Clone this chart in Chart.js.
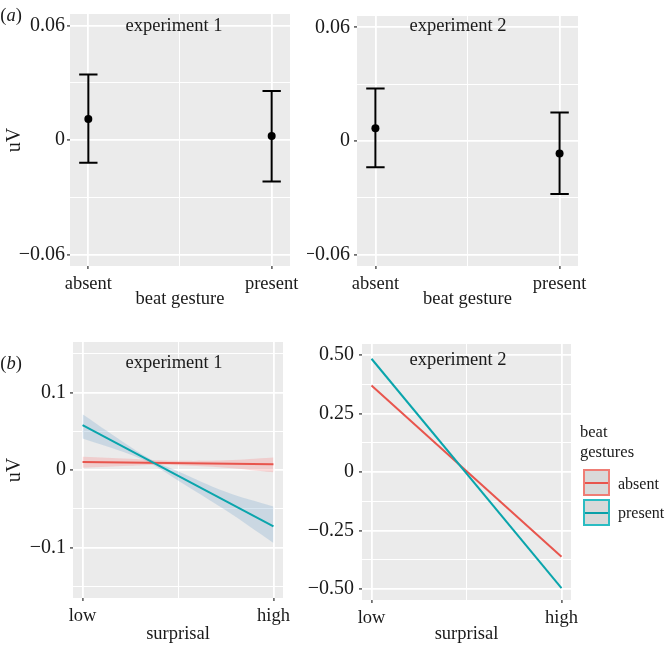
<!DOCTYPE html>
<html>
<head>
<meta charset="utf-8">
<script src="https://cdn.jsdelivr.net/npm/chart.js@4.4.1/dist/chart.umd.min.js"></script>
<style>
    body { margin: 0; width: 666px; height: 645px; position: relative; overflow: hidden; background: #fff;
           font-family: "Liberation Serif", "DejaVu Serif", serif; color: #1a1a1a; }
    canvas { position: absolute; }
    .lbl { position: absolute; white-space: nowrap; font-size: 18.5px; line-height: 1; transform: translate(-50%, -50%); }
    .lft { transform: translate(0, -50%); }
    .key { position: absolute; width: 27px; height: 27px; box-sizing: border-box; background: #d9d9d9; border: 2px solid; }
    .key span { position: absolute; left: 0; right: 0; top: 10.5px; height: 2px; }
</style>
</head>
<body>
<canvas id="a1" width="310" height="310" style="left:0px;top:0px"></canvas>
<canvas id="a2" width="291" height="310" style="left:307px;top:0px"></canvas>
<canvas id="b1" width="303" height="325" style="left:0px;top:320px"></canvas>
<canvas id="b2" width="279" height="325" style="left:307px;top:320px"></canvas>

<div class="lbl" style="left:11px;top:15px">(<i>a</i>)</div>
<div class="lbl" style="left:11px;top:363px">(<i>b</i>)</div>
<div class="lbl" style="left:174px;top:25px">experiment 1</div>
<div class="lbl" style="left:458px;top:25px">experiment 2</div>
<div class="lbl" style="left:174px;top:362px">experiment 1</div>
<div class="lbl" style="left:458px;top:359px">experiment 2</div>

<div class="lbl lft" style="left:580px;top:432px;font-size:16.5px">beat</div>
<div class="lbl lft" style="left:580px;top:452px;font-size:16.5px">gestures</div>
<div class="key" style="left:583px;top:469px;border-color:#ef7d75"><span style="background:#e8554d"></span></div>
<div class="key" style="left:583px;top:499px;border-color:#2bbcc2"><span style="background:#0aa0a8"></span></div>
<div class="lbl lft" style="left:618px;top:484px;font-size:16px">absent</div>
<div class="lbl lft" style="left:618px;top:513px;font-size:16px">present</div>

<script>
// (a) mean amplitude with error bars
const gestureCats = ['absent', 'present'];
const gestureX = [1, 2];
const exp1Mean = [0.0110, 0.0021];
const exp1Low = [-0.0119, -0.0217];
const exp1High = [0.0343, 0.0257];
const exp2Mean = [0.0067, -0.0066];
const exp2Low = [-0.0139, -0.0280];
const exp2High = [0.0277, 0.0151];
const gestureTicks = [-0.06, -0.03, 0, 0.03, 0.06];
const gestureTickLabels = ['\u22120.06', '', '0', '', '0.06'];

// (b) surprisal slopes
const surprisalCats = ['low', 'high'];
const surprisalX = [0, 1];
const exp1Absent = [0.0103, 0.0073];
const exp1Present = [0.0577, -0.0727];
const bandX = [0, 0.25, 0.37, 0.5, 0.75, 1];
const exp1AbsentUpper = [0.0171, 0.0145, 0.0128, 0.0118, 0.0125, 0.0162];
const exp1AbsentLower = [0.0030, 0.0055, 0.0066, 0.0062, 0.0030, -0.0030];
const exp1PresentUpper = [0.0718, 0.0300, 0.0124, -0.0015, -0.0280, -0.0470];
const exp1PresentLower = [0.0406, 0.0200, 0.0064, -0.0135, -0.0520, -0.0940];
const exp2Absent = [0.370, -0.362];
const exp2Present = [0.484, -0.496];
const exp1Ticks = [-0.15, -0.1, -0.05, 0, 0.05, 0.1, 0.15];
const exp1TickLabels = ['', '\u22120.1', '', '0', '', '0.1', ''];
const exp2Ticks = [-0.5, -0.375, -0.25, -0.125, 0, 0.125, 0.25, 0.375, 0.5];
const exp2TickLabels = ['\u22120.50', '', '\u22120.25', '', '0', '', '0.25', '', '0.50'];

const RED = '#e8554d';
const TEAL = '#0aa5ac';
const FONT = '"Liberation Serif", serif';

const panelBg = {
    id: 'panelBg',
    beforeDraw(chart) {
        const { ctx, chartArea: a } = chart;
        ctx.save();
        ctx.fillStyle = '#ebebeb';
        ctx.fillRect(a.left, a.top, a.right - a.left, a.bottom - a.top);
        ctx.restore();
    }
};

const errorBars = {
    id: 'errorBars',
    beforeDatasetsDraw(chart, args, opts) {
        if (!opts.low) return;
        const { ctx, scales: { x, y } } = chart;
        ctx.save();
        ctx.strokeStyle = '#000';
        ctx.lineWidth = 2;
        opts.xs.forEach((xv, i) => {
            const px = x.getPixelForValue(xv);
            const l = x.getPixelForValue(xv - opts.cap / 2);
            const r = x.getPixelForValue(xv + opts.cap / 2);
            const yl = y.getPixelForValue(opts.low[i]);
            const yh = y.getPixelForValue(opts.high[i]);
            ctx.beginPath();
            ctx.moveTo(px, yl); ctx.lineTo(px, yh);
            ctx.moveTo(l, yl); ctx.lineTo(r, yl);
            ctx.moveTo(l, yh); ctx.lineTo(r, yh);
            ctx.stroke();
        });
        ctx.restore();
    }
};
Chart.register(panelBg, errorBars);

function gridOpts(labels) {
    return {
        color: '#ffffff',
        lineWidth: c => labels[c.index] ? 1.8 : 1,
        tickColor: c => labels[c.index] ? '#555' : 'rgba(0,0,0,0)',
        tickLength: 3,
        tickWidth: 1.5
    };
}

function xScale(min, max, ticks, labels, height, title) {
    return {
        type: 'linear', min: min, max: max,
        afterBuildTicks: s => { s.ticks = ticks.map(v => ({ value: v })); },
        afterFit: s => { s.height = height; },
        ticks: { callback: (v, i) => labels[i], autoSkip: false, maxRotation: 0, padding: 4,
                 color: '#1a1a1a', font: { family: FONT, size: 18.5 } },
        grid: gridOpts(labels),
        border: { display: false },
        title: { display: true, text: title, color: '#1a1a1a', padding: 0,
                 font: { family: FONT, size: 18.5 } }
    };
}

function yScale(min, max, ticks, labels, width, pad, withTitle) {
    return {
        type: 'linear', min: min, max: max,
        afterBuildTicks: s => { s.ticks = ticks.map(v => ({ value: v })); },
        afterFit: s => { s.width = width; },
        ticks: { callback: (v, i) => labels[i], autoSkip: false, padding: pad,
                 color: '#1a1a1a', font: { family: FONT, size: 20 } },
        grid: gridOpts(labels),
        border: { display: false },
        title: { display: withTitle, text: 'uV', color: '#1a1a1a', padding: { top: 3, bottom: 0 },
                 font: { family: FONT, size: 20 } }
    };
}

function baseOptions(padTop, padRight, scales, extra) {
    return {
        responsive: false,
        animation: false,
        devicePixelRatio: 1,
        layout: { padding: { top: padTop, right: padRight, left: 0, bottom: 0 }, autoPadding: false },
        plugins: Object.assign({ legend: { display: false }, tooltip: { enabled: false } }, extra || {}),
        scales: scales
    };
}

function gestureChart(id, means, low, high, yW, pad, withTitle) {
    new Chart(document.getElementById(id), {
        type: 'scatter',
        data: {
            datasets: [{
                label: 'mean',
                data: gestureX.map((x, i) => ({ x: x, y: means[i] })),
                pointRadius: 4, pointBackgroundColor: '#000', pointBorderColor: '#000', borderWidth: 0
            }]
        },
        options: baseOptions(11, 20, {
            x: xScale(0.9, 2.1, [1, 1.5, 2], ['absent', '', 'present'], 44, 'beat gesture'),
            y: yScale(-0.066, 0.066, gestureTicks, gestureTickLabels, yW, pad, withTitle)
        }, { errorBars: { xs: gestureX, low: low, high: high, cap: 0.1 } })
    });
}

gestureChart('a1', exp1Mean, exp1Low, exp1High, 70, 2, true);
gestureChart('a2', exp2Mean, exp2Low, exp2High, 50, 4, false);

function pts(xs, ys) { return xs.map((x, i) => ({ x: x, y: ys[i] })); }

function band(ys, fill, color) {
    return { data: pts(bandX, ys), borderWidth: 0, pointRadius: 0, tension: 0.4,
             fill: fill, backgroundColor: color, order: 5 };
}

function line(label, ys, color, order) {
    return { label: label, data: pts(surprisalX, ys), borderColor: color, borderWidth: 2,
             pointRadius: 0, fill: false, order: order };
}

new Chart(document.getElementById('b1'), {
    type: 'line',
    data: {
        datasets: [
            band(exp1AbsentUpper, '+1', 'rgba(250,135,135,0.3)'),
            band(exp1AbsentLower, false, 'rgba(0,0,0,0)'),
            band(exp1PresentUpper, '+1', 'rgba(135,175,208,0.32)'),
            band(exp1PresentLower, false, 'rgba(0,0,0,0)'),
            line('absent', exp1Absent, RED, 2),
            line('present', exp1Present, TEAL, 1)
        ]
    },
    options: baseOptions(22, 20, {
        x: xScale(-0.05, 1.05, [0, 0.5, 1], ['low', '', 'high'], 47, 'surprisal'),
        y: yScale(-0.165, 0.165, exp1Ticks, exp1TickLabels, 73, 4, true)
    })
});

new Chart(document.getElementById('b2'), {
    type: 'line',
    data: {
        datasets: [
            line('absent', exp2Absent, RED, 2),
            line('present', exp2Present, TEAL, 1)
        ]
    },
    options: baseOptions(24, 15, {
        x: xScale(-0.05, 1.05, [0, 0.5, 1], ['low', '', 'high'], 45, 'surprisal'),
        y: yScale(-0.547, 0.547, exp2Ticks, exp2TickLabels, 55, 5, false)
    })
});
</script>
</body>
</html>
